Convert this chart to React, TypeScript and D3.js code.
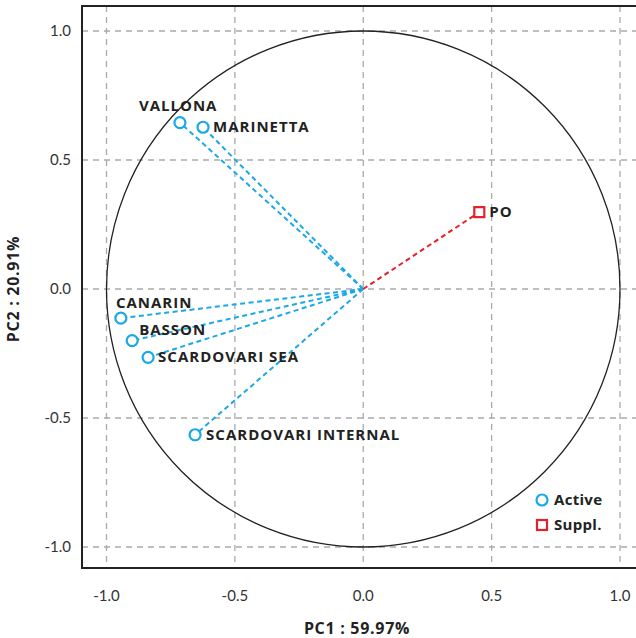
import React from "react";
import * as d3 from "d3";

const activeNames = ["VALLONA", "MARINETTA", "CANARIN", "BASSON", "SCARDOVARI SEA", "SCARDOVARI INTERNAL"];
const activePC1 = [-0.714, -0.624, -0.944, -0.9, -0.838, -0.655];
const activePC2 = [0.645, 0.627, -0.113, -0.2, -0.265, -0.565];
const supplNames = ["PO"];
const supplPC1 = [0.452];
const supplPC2 = [0.298];
const ticks = [-1.0, -0.5, 0.0, 0.5, 1.0];
const tickLabels = ["-1.0", "-0.5", "0.0", "0.5", "1.0"];
const xTitle = "PC1 : 59.97%";
const yTitle = "PC2 : 20.91%";
const legendLabels = ["Active", "Suppl."];

// label nudges (repel-style), in pixels relative to the point
const activeLabelDx = [-41, 10, -5, 7, 10, 11];
const activeLabelDy = [-12, 5, -10, -6, 5, 5];
const supplLabelDx = [10];
const supplLabelDy = [5];

const W = 636, H = 638;
const BLUE = "#1ba8e6";
const RED = "#e6202b";
const FONT = "'Open Sans', 'DejaVu Sans', sans-serif";
const TFONT = "Lato, 'DejaVu Sans', sans-serif";

export default function App() {
  const x = d3.scaleLinear().domain([-1, 1]).range([106.5, 620]);
  const y = d3.scaleLinear().domain([-1, 1]).range([547, 31]);
  const cx = x(0), cy = y(0);
  const rx = x(1) - x(0), ry = y(-1) - y(0);
  const frame = { l: 82, t: 6, r: 660, b: 568 };

  const active = activeNames.map((n, i) => ({ n, px: x(activePC1[i]), py: y(activePC2[i]), dx: activeLabelDx[i], dy: activeLabelDy[i] }));
  const suppl = supplNames.map((n, i) => ({ n, px: x(supplPC1[i]), py: y(supplPC2[i]), dx: supplLabelDx[i], dy: supplLabelDy[i] }));

  return (
    <svg width={W} height={H} style={{ position: "absolute", left: 0, top: 0, background: "#fff" }}>
      {ticks.map((t, i) => (
        <line key={"gx" + i} x1={x(t)} x2={x(t)} y1={frame.t} y2={frame.b} stroke="#aaa" strokeWidth={1.3} strokeDasharray="6,5" />
      ))}
      {ticks.map((t, i) => (
        <line key={"gy" + i} x1={frame.l} x2={W} y1={y(t)} y2={y(t)} stroke="#aaa" strokeWidth={1.3} strokeDasharray="6,5" />
      ))}
      <rect x={frame.l} y={frame.t} width={frame.r - frame.l} height={frame.b - frame.t} fill="none" stroke="#222" strokeWidth={2} />
      <ellipse cx={cx} cy={cy} rx={rx} ry={ry} fill="none" stroke="#222" strokeWidth={1.3} />
      {active.map((d, i) => (
        <line key={"la" + i} x1={cx} y1={cy} x2={d.px} y2={d.py} stroke={BLUE} strokeWidth={2} strokeDasharray="5,3.5" />
      ))}
      {suppl.map((d, i) => (
        <line key={"ls" + i} x1={cx} y1={cy} x2={d.px} y2={d.py} stroke={RED} strokeWidth={2} strokeDasharray="5,3.5" />
      ))}
      {active.map((d, i) => (
        <circle key={"pa" + i} cx={d.px} cy={d.py} r={5.5} fill="#fff" stroke={BLUE} strokeWidth={2.2} />
      ))}
      {suppl.map((d, i) => (
        <rect key={"ps" + i} x={d.px - 5} y={d.py - 5} width={10} height={10} fill="#fff" stroke={RED} strokeWidth={2.2} />
      ))}
      {[...active, ...suppl].map((d, i) => (
        <text key={"t" + i} x={d.px + d.dx} y={d.py + d.dy} fontFamily={FONT} fontWeight={700} fontSize={15} letterSpacing={1} fill="#222">
          {d.n}
        </text>
      ))}
      {ticks.map((t, i) => (
        <text key={"tx" + i} x={x(t)} y={601} textAnchor="middle" fontFamily={TFONT} fontSize={15} fill="#333">{tickLabels[i]}</text>
      ))}
      {ticks.map((t, i) => (
        <text key={"ty" + i} x={71} y={y(t) + 5} textAnchor="end" fontFamily={TFONT} fontSize={15} fill="#333">{tickLabels[i]}</text>
      ))}
      <text x={357} y={634} textAnchor="middle" fontFamily={FONT} fontWeight={700} fontSize={16} letterSpacing={0.7} fill="#222">{xTitle}</text>
      <text transform={`translate(19,${cy}) rotate(-90)`} textAnchor="middle" fontFamily={FONT} fontWeight={700} fontSize={16} letterSpacing={0.7} fill="#222">{yTitle}</text>
      <circle cx={542} cy={500} r={5.5} fill="#fff" stroke={BLUE} strokeWidth={2.2} />
      <text x={554} y={505} fontFamily={FONT} fontWeight={700} fontSize={15} letterSpacing={0.3} fill="#222">{legendLabels[0]}</text>
      <rect x={537} y={520} width={10} height={10} fill="#fff" stroke={RED} strokeWidth={2.2} />
      <text x={554} y={530} fontFamily={FONT} fontWeight={700} fontSize={15} letterSpacing={0.3} fill="#222">{legendLabels[1]}</text>
    </svg>
  );
}
